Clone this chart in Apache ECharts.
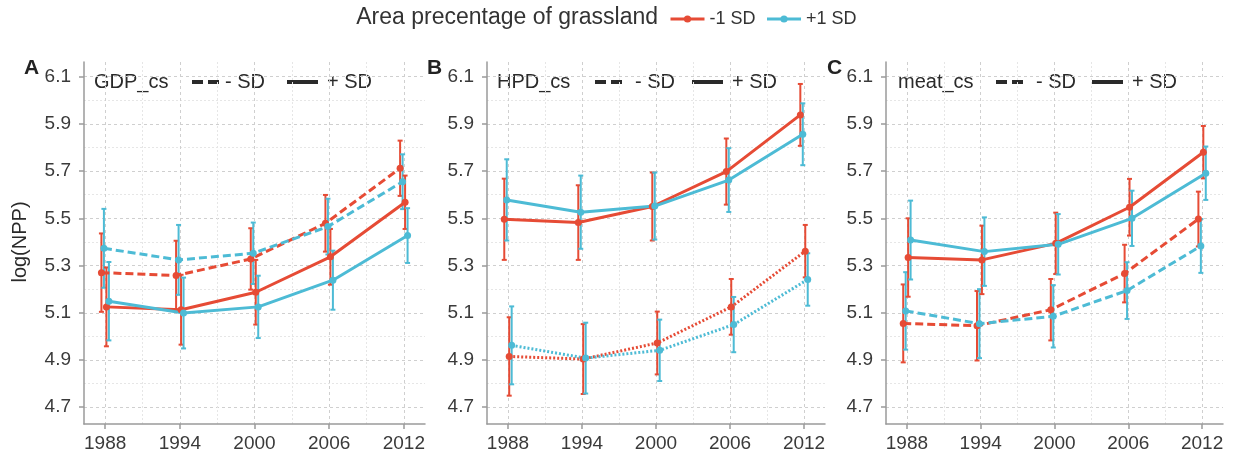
<!DOCTYPE html>
<html>
<head>
<meta charset="utf-8">
<script src="https://cdn.jsdelivr.net/npm/echarts@6/dist/echarts.min.js"></script>
<style>
html, body { margin: 0; padding: 0; background: #fff; }
#chart { width: 1238px; height: 456px; }
</style>
</head>
<body>
<div id="chart"></div>
<script>
// ---- data ----
var years = [1988, 1994, 2000, 2006, 2012];
var yTicks = [4.7, 4.9, 5.1, 5.3, 5.5, 5.7, 5.9, 6.1];
var yMinor = [4.8, 5.0, 5.2, 5.4, 5.6, 5.8, 6.0];
var xMinor = [1991, 1997, 2003, 2009];
var legendNames = ['-1 SD', '+1 SD'];

// A: GDP_cs  (Lo = - SD dashed, Hi = + SD solid)
var gdpLoRed = [5.270, 5.258, 5.328, 5.479, 5.712];
var gdpLoRedErr = [0.166, 0.147, 0.130, 0.120, 0.117];
var gdpLoBlue = [5.373, 5.324, 5.352, 5.465, 5.655];
var gdpLoBlueErr = [0.167, 0.148, 0.130, 0.118, 0.116];
var gdpHiRed = [5.125, 5.113, 5.187, 5.337, 5.568];
var gdpHiRedErr = [0.167, 0.148, 0.137, 0.118, 0.113];
var gdpHiBlue = [5.149, 5.099, 5.125, 5.238, 5.427];
var gdpHiBlueErr = [0.166, 0.150, 0.132, 0.125, 0.116];

// B: HPD_cs
var hpdHiRed = [5.496, 5.482, 5.550, 5.698, 5.938];
var hpdHiRedErr = [0.172, 0.158, 0.144, 0.140, 0.131];
var hpdHiBlue = [5.578, 5.526, 5.552, 5.662, 5.856];
var hpdHiBlueErr = [0.172, 0.155, 0.142, 0.135, 0.131];
var hpdLoRed = [4.915, 4.904, 4.972, 5.125, 5.361];
var hpdLoRedErr = [0.166, 0.148, 0.133, 0.118, 0.111];
var hpdLoBlue = [4.962, 4.908, 4.941, 5.050, 5.241];
var hpdLoBlueErr = [0.165, 0.150, 0.130, 0.117, 0.111];

// C: meat_cs
var meatHiRed = [5.334, 5.324, 5.394, 5.547, 5.780];
var meatHiRedErr = [0.166, 0.145, 0.130, 0.120, 0.111];
var meatHiBlue = [5.408, 5.359, 5.390, 5.500, 5.691];
var meatHiBlueErr = [0.167, 0.145, 0.128, 0.117, 0.113];
var meatLoRed = [5.055, 5.045, 5.113, 5.266, 5.497];
var meatLoRedErr = [0.165, 0.147, 0.130, 0.122, 0.116];
var meatLoBlue = [5.108, 5.054, 5.085, 5.194, 5.383];
var meatLoBlueErr = [0.164, 0.146, 0.132, 0.120, 0.114];

// ---- styling ----
var RED = '#E64B35', BLUE = '#4DBBD5';
var FONT = '"Liberation Sans", Arial, sans-serif';
var DASH = [8, 4], DOT = [2, 2];

var panels = [
    { letter: 'A', label: 'GDP_cs', left: 84, width: 341, letterX: 24,
      legendX: [94, 192, 220, 225, 287, 318, 327], lines: [
        { v: gdpLoRed, e: gdpLoRedErr, c: RED, name: '-1 SD', dash: DASH, dodge: -0.3 },
        { v: gdpLoBlue, e: gdpLoBlueErr, c: BLUE, name: '+1 SD', dash: DASH, dodge: -0.1 },
        { v: gdpHiRed, e: gdpHiRedErr, c: RED, name: '-1 SD', dash: 'solid', dodge: 0.1 },
        { v: gdpHiBlue, e: gdpHiBlueErr, c: BLUE, name: '+1 SD', dash: 'solid', dodge: 0.3 }
    ]},
    { letter: 'B', label: 'HPD_cs', left: 487, width: 338, letterX: 427,
      legendX: [497, 595, 623, 635, 692, 723, 732], lines: [
        { v: hpdHiRed, e: hpdHiRedErr, c: RED, name: '-1 SD', dash: 'solid', dodge: -0.3 },
        { v: hpdHiBlue, e: hpdHiBlueErr, c: BLUE, name: '+1 SD', dash: 'solid', dodge: -0.1 },
        { v: hpdLoRed, e: hpdLoRedErr, c: RED, name: '-1 SD', dash: DOT, dodge: 0.1 },
        { v: hpdLoBlue, e: hpdLoBlueErr, c: BLUE, name: '+1 SD', dash: DOT, dodge: 0.3 }
    ]},
    { letter: 'C', label: 'meat_cs', left: 886, width: 337, letterX: 827,
      legendX: [898, 996, 1023, 1036, 1092, 1123, 1132], lines: [
        { v: meatLoRed, e: meatLoRedErr, c: RED, name: '-1 SD', dash: DASH, dodge: -0.3 },
        { v: meatLoBlue, e: meatLoBlueErr, c: BLUE, name: '+1 SD', dash: DASH, dodge: -0.1 },
        { v: meatHiRed, e: meatHiRedErr, c: RED, name: '-1 SD', dash: 'solid', dodge: 0.1 },
        { v: meatHiBlue, e: meatHiBlueErr, c: BLUE, name: '+1 SD', dash: 'solid', dodge: 0.3 }
    ]}
];

var X_MIN = 1986.3, X_MAX = 2013.7, Y_MIN = 4.629, Y_MAX = 6.162;
var GRID_TOP = 62, GRID_H = 362;

function errorBar(params, api) {
    var x = api.value(0);
    var top = api.coord([x, api.value(2)]);
    var bot = api.coord([x, api.value(1)]);
    var cap = 2.5;
    var st = { stroke: api.visual('color'), lineWidth: 2 };
    return {
        type: 'group',
        children: [
            { type: 'line', shape: { x1: top[0], y1: top[1], x2: bot[0], y2: bot[1] }, style: st },
            { type: 'line', shape: { x1: top[0] - cap, y1: top[1], x2: top[0] + cap, y2: top[1] }, style: st },
            { type: 'line', shape: { x1: bot[0] - cap, y1: bot[1], x2: bot[0] + cap, y2: bot[1] }, style: st }
        ]
    };
}

var grids = [], xAxes = [], yAxes = [], series = [], graphics = [];

panels.forEach(function (p, i) {
    grids.push({ left: p.left, top: GRID_TOP, width: p.width, height: GRID_H });

    // main axes
    xAxes.push({
        type: 'value', gridIndex: i, min: X_MIN, max: X_MAX,
        axisLine: { show: true, lineStyle: { color: '#9a9a9a', width: 1.5 } },
        axisTick: { show: true, length: 5, customValues: years, lineStyle: { color: '#9a9a9a', width: 1.5 } },
        axisLabel: { customValues: years, margin: 10, fontSize: 19, color: '#3a3a3a', fontFamily: FONT,
            formatter: function (v) { return String(Math.round(v)); } },
        splitLine: { show: true, lineStyle: { color: '#cfcfcf', type: [3, 3], width: 1 } }
    });
    // minor x grid
    xAxes.push({
        type: 'value', gridIndex: i, min: X_MIN, max: X_MAX,
        axisLine: { show: false }, axisLabel: { show: false },
        axisTick: { show: false, customValues: xMinor },
        splitLine: { show: true, lineStyle: { color: '#e6e6e6', type: [2, 2], width: 1 } }
    });
    yAxes.push({
        type: 'value', gridIndex: i, min: Y_MIN, max: Y_MAX,
        axisLine: { show: true, lineStyle: { color: '#9a9a9a', width: 1.5 } },
        axisTick: { show: true, length: 5, customValues: yTicks, lineStyle: { color: '#9a9a9a', width: 1.5 } },
        axisLabel: { customValues: yTicks, margin: 13, fontSize: 19, color: '#3a3a3a', fontFamily: FONT,
            formatter: function (v) { return v.toFixed(1); } },
        splitLine: { show: true, lineStyle: { color: '#cfcfcf', type: [3, 3], width: 1 } }
    });
    yAxes.push({
        type: 'value', gridIndex: i, min: Y_MIN, max: Y_MAX,
        axisLine: { show: false }, axisLabel: { show: false },
        axisTick: { show: false, customValues: yMinor },
        splitLine: { show: true, lineStyle: { color: '#e6e6e6', type: [2, 2], width: 1 } }
    });

    p.lines.forEach(function (ln) {
        var pts = [], bars = [];
        for (var k = 0; k < years.length; k++) {
            var x = years[k] + ln.dodge;
            pts.push([x, ln.v[k]]);
            bars.push([x, ln.v[k] - ln.e[k], ln.v[k] + ln.e[k]]);
        }
        series.push({
            type: 'custom', name: ln.name + ' ci', xAxisIndex: i * 2, yAxisIndex: i * 2,
            renderItem: errorBar, encode: { x: 0, y: [1, 2] },
            itemStyle: { color: ln.c }, data: bars, z: 2, silent: true
        });
        series.push({
            type: 'line', name: ln.name, xAxisIndex: i * 2, yAxisIndex: i * 2,
            data: pts, symbol: 'circle', symbolSize: 7, showSymbol: true,
            itemStyle: { color: ln.c },
            lineStyle: { color: ln.c, width: 3, type: ln.dash },
            z: 3, animation: false
        });
    });

    // panel letter
    graphics.push({ type: 'text', x: p.letterX, y: 68,
        style: { text: p.letter, font: 'bold 21px ' + FONT, fill: '#222', verticalAlign: 'middle' } });
    // in-panel linetype legend
    var lx = p.legendX, ly = 82;
    graphics.push({ type: 'text', x: lx[0], y: ly,
        style: { text: p.label, font: '20px ' + FONT, fill: '#2a2a2a', verticalAlign: 'middle' } });
    graphics.push({ type: 'line', shape: { x1: lx[1], y1: ly, x2: lx[2], y2: ly },
        style: { stroke: '#2a2a2a', lineWidth: 4, lineDash: [11, 5] } });
    graphics.push({ type: 'text', x: lx[3], y: ly,
        style: { text: '- SD', font: '20px ' + FONT, fill: '#2a2a2a', verticalAlign: 'middle' } });
    graphics.push({ type: 'line', shape: { x1: lx[4], y1: ly, x2: lx[5], y2: ly },
        style: { stroke: '#2a2a2a', lineWidth: 4 } });
    graphics.push({ type: 'text', x: lx[6], y: ly,
        style: { text: '+ SD', font: '20px ' + FONT, fill: '#2a2a2a', verticalAlign: 'middle' } });
});

// y axis title
graphics.push({ type: 'text', x: 20, y: 242, rotation: Math.PI / 2,
    style: { text: 'log(NPP)', font: '20px ' + FONT, fill: '#2a2a2a', align: 'center', verticalAlign: 'middle' } });
// legend title
graphics.push({ type: 'text', x: 658, y: 18,
    style: { text: 'Area precentage of grassland', font: '23px ' + FONT, fill: '#333', align: 'right', verticalAlign: 'middle' } });

var chart = echarts.init(document.getElementById('chart'), null, { renderer: 'canvas' });
chart.setOption({
    animation: false,
    backgroundColor: '#fff',
    legend: {
        data: legendNames, left: 664, top: 5, itemWidth: 34, itemHeight: 9, itemGap: 10,
        lineStyle: { type: 'solid', width: 3 },
        textStyle: { fontSize: 18, color: '#333', fontFamily: FONT }
    },
    grid: grids,
    xAxis: xAxes,
    yAxis: yAxes,
    graphic: graphics,
    series: series
});
</script>
</body>
</html>
